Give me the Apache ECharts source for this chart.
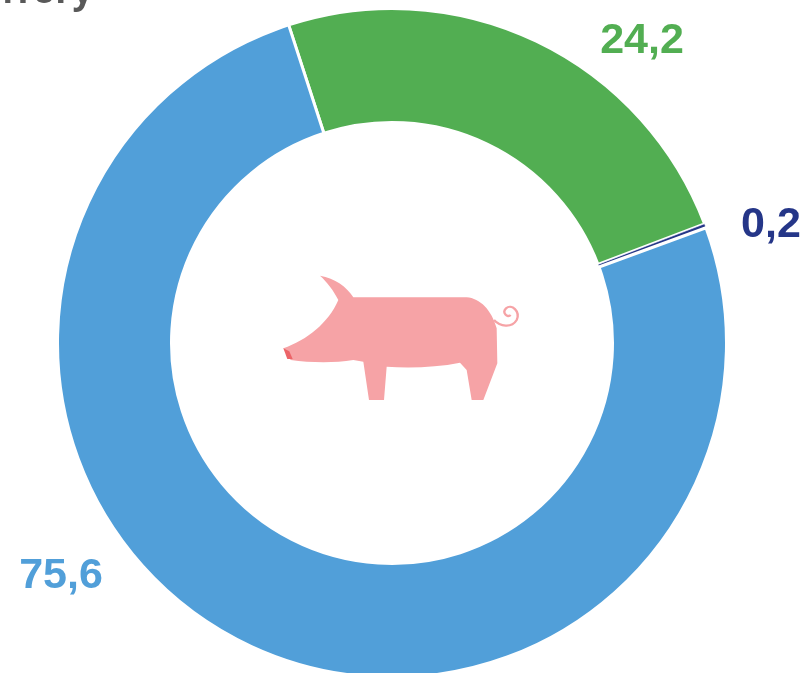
<!DOCTYPE html>
<html>
<head>
<meta charset="utf-8">
<style>
  html, body { margin: 0; padding: 0; background: #fff; }
  #chart { width: 805px; height: 673px; }
</style>
<script src="https://cdn.jsdelivr.net/npm/echarts@6/dist/echarts.min.js"></script>
</head>
<body>
<div id="chart"></div>
<script>
const categories = ['Группа 1', 'Группа 2', 'Группа 3']
const values = [24.2, 0.2, 75.6]
const colors = ['#52AE52', '#253688', '#519FD9']
const titleText = 'к итогу'

// label centres, the labels sit away from the ring
const labelSpots = [
  { x: 642, y: 41 },
  { x: 771, y: 225 },
  { x: 61, y: 576 }
]

const pigBody =
  'M150 47 C195 55 230 80 250 112 L590 112 C630 115 665 150 680 205 L682 310 L640 420 L605 420 ' +
  'L590 330 L570 308 C500 322 420 325 350 320 L342 420 L297 420 L280 305 L250 300 ' +
  'C190 310 120 308 62 300 L40 265 C110 240 175 190 205 120 C190 90 170 65 150 47 Z'
const pigSnout = 'M40 265 L58 274 L68 297 L52 297 Z'
const pigTail =
  'M672 180 C690 200 725 205 740 180 C752 155 725 130 708 145 C695 158 712 175 722 165'

const chart = echarts.init(document.getElementById('chart'))
chart.setOption({
  animation: false,
  backgroundColor: '#fff',
  title: {
    text: titleText,
    right: 707,
    top: -30,
    textStyle: {
      fontFamily: 'Open Sans',
      fontWeight: 'bold',
      fontSize: 36,
      color: '#595959'
    }
  },
  series: [
    {
      type: 'pie',
      center: [392, 343],
      radius: [220.5, 334.5],
      startAngle: 108,
      clockwise: true,
      avoidLabelOverlap: false,
      itemStyle: { borderColor: '#fff', borderWidth: 3 },
      label: {
        show: true,
        position: 'outside',
        fontFamily: 'Liberation Sans',
        fontWeight: 'bold',
        fontSize: 43,
        formatter: (p) => String(p.value).replace('.', ',')
      },
      labelLine: { show: false },
      labelLayout: (p) => ({
        x: labelSpots[p.dataIndex].x,
        y: labelSpots[p.dataIndex].y,
        align: 'center',
        verticalAlign: 'middle'
      }),
      data: categories.map((name, i) => ({
        name,
        value: values[i],
        // the thin slice would vanish under the wide border
        itemStyle: { color: colors[i], borderWidth: values[i] < 1 ? 0.6 : 3 },
        label: { color: colors[i] }
      }))
    },
    {
      // pig icon in the hole of the ring
      type: 'custom',
      coordinateSystem: 'none',
      silent: true,
      data: [[0]],
      renderItem: () => ({
        type: 'group',
        x: 270,
        y: 260,
        scaleX: 1 / 3,
        scaleY: 1 / 3,
        children: [
          { type: 'path', shape: { pathData: pigBody }, style: { fill: '#F6A3A6' } },
          { type: 'path', shape: { pathData: pigSnout }, style: { fill: '#EC6468' } },
          {
            type: 'path',
            shape: { pathData: pigTail },
            style: { fill: 'none', stroke: '#F6A3A6', lineWidth: 7 }
          }
        ]
      })
    }
  ]
})
</script>
</body>
</html>
